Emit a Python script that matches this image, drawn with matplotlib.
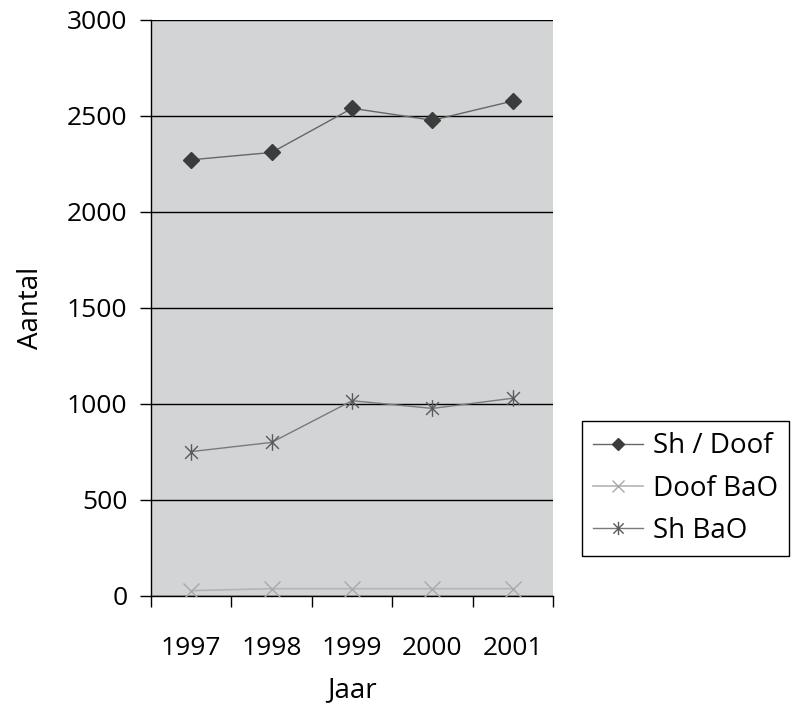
import matplotlib
matplotlib.use("Agg")
import matplotlib.pyplot as plt
from matplotlib.path import Path

plt.rcParams['font.family'] = ['Open Sans', 'DejaVu Sans']

years = ['1997', '1998', '1999', '2000', '2001']
sh_doof = [2272, 2310, 2540, 2478, 2578]
doof_bao = [28, 38, 38, 38, 38]
sh_bao = [752, 800, 1017, 977, 1030]

# excel style asterisk: x plus vertical bar
star = Path([(-1, -1), (1, 1), (-1, 1), (1, -1), (0, -1.3), (0, 1.3)],
            [Path.MOVETO, Path.LINETO, Path.MOVETO, Path.LINETO, Path.MOVETO, Path.LINETO])

fig = plt.figure(figsize=(7.95, 7.09), dpi=100)
ax = fig.add_axes([0.190, 0.1594, 0.5057, 0.8124])
ax.set_facecolor('#d3d4d6')

x = list(range(len(years)))
ax.plot(x, sh_doof, color='#666666', lw=1, marker='D', ms=8,
        mfc='#3c3c3c', mec='#3c3c3c', label='Sh / Doof', zorder=3)
ax.plot(x, doof_bao, color='#b4b4b4', lw=1.2, marker='x', ms=11,
        mec='#a8a8a8', mew=1, label='Doof BaO', zorder=3)
ax.plot(x, sh_bao, color='#7a7a7a', lw=1, marker=star, ms=12,
        mec='#5a5a5a', mew=1, label='Sh BaO', zorder=3)

ax.set_xlim(-0.5, 4.5)
ax.set_ylim(0, 3000)
ax.set_yticks(range(0, 3001, 500))
ax.yaxis.grid(True, color='black', lw=1)
ax.set_axisbelow(True)

ax.set_xticks([i - 0.5 for i in range(len(years) + 1)])
ax.set_xticklabels([])
ax.set_xticks(x, minor=True)
ax.set_xticklabels(years, minor=True)
ax.tick_params(axis='x', which='major', direction='out', length=8, width=1)
ax.tick_params(axis='x', which='minor', length=0, pad=29, labelsize=19)
ax.tick_params(axis='y', direction='out', length=8, width=1, pad=9, labelsize=19)

for s in ['top', 'right']:
    ax.spines[s].set_visible(False)
for s in ['left', 'bottom']:
    ax.spines[s].set_color('black')
    ax.spines[s].set_linewidth(1)

ax.set_xlabel('Jaar', fontsize=20, labelpad=11)
ax.set_ylabel('Aantal', fontsize=20, labelpad=16)

leg = fig.legend(loc='upper left', bbox_to_anchor=(0.732, 0.406), fontsize=20,
                 frameon=True, fancybox=False, edgecolor='black', framealpha=1,
                 borderaxespad=0, markerscale=0.8,
                 handlelength=1.8, handletextpad=0.35, borderpad=0.4, labelspacing=0.52)
leg.get_frame().set_linewidth(1)

fig.savefig('out.png', dpi=100)
